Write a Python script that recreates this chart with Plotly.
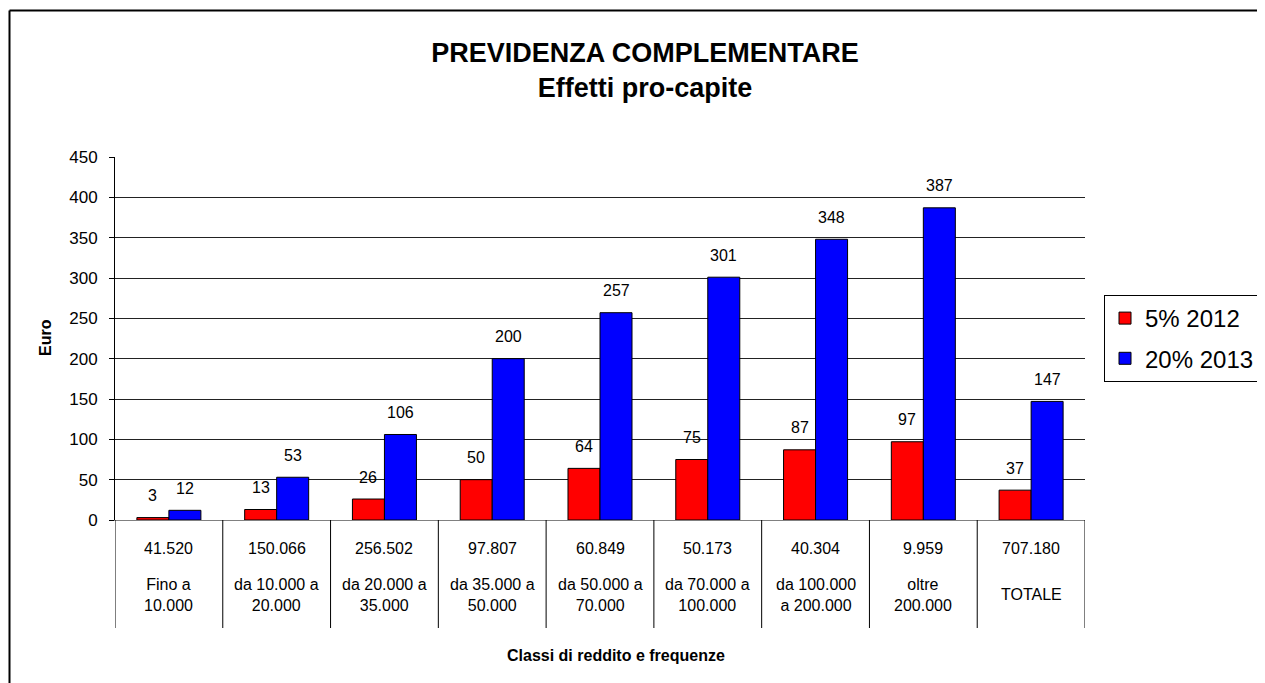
import plotly.graph_objects as go

# ---- data ----
frequenze = ["41.520", "150.066", "256.502", "97.807", "60.849", "50.173", "40.304", "9.959", "707.180"]
classi = ["Fino a<br>10.000", "da 10.000 a<br>20.000", "da 20.000 a<br>35.000", "da 35.000 a<br>50.000",
          "da 50.000 a<br>70.000", "da 70.000 a<br>100.000", "da 100.000<br>a 200.000", "oltre<br>200.000", "TOTALE"]
serie_2012 = [3, 13, 26, 50, 64, 75, 87, 97, 37]
serie_2013 = [12, 53, 106, 200, 257, 301, 348, 387, 147]
nome_2012 = "5% 2012"
nome_2013 = "20% 2013"
y_ticks = [0, 50, 100, 150, 200, 250, 300, 350, 400, 450]

FONT = "Liberation Sans, Arial, sans-serif"
OFF = 8  # page body margin
W, H = 1265 - 2 * OFF, 683 - OFF
PL, PR, PT, PB = 115, 1085, 157, 520  # plot area in screen pixels
L, R, T, B = PL - OFF, W - (PR - OFF), PT - OFF, H - (PB - OFF)
PH = PB - PT
PW = PR - PL

def py(pix):  # screen pixel y -> paper y
    return (PB - pix) / PH

def px(pix):  # screen pixel x -> paper x
    return (pix - PL) / PW

xs = list(range(len(frequenze)))

fig = go.Figure()
fig.add_trace(go.Bar(x=xs, y=serie_2012, name=nome_2012, legendgroup="a",
                     marker=dict(color="#FF0000", line=dict(color="#000000", width=1))))
fig.add_trace(go.Bar(x=xs, y=serie_2013, name=nome_2013, legendgroup="b",
                     marker=dict(color="#0000FF", line=dict(color="#000000", width=1))))

annotations = []
# data labels
bar_off = 16
for vals, sh in ((serie_2012, -bar_off), (serie_2013, bar_off)):
    for i, v in enumerate(vals):
        annotations.append(dict(x=i, y=v, xref="x", yref="y", text=str(v), showarrow=False,
                                xshift=sh, yshift=22, xanchor="center", yanchor="middle",
                                font=dict(family=FONT, size=16, color="#000")))
# table rows
for i in xs:
    annotations.append(dict(x=i, y=py(548), xref="x", yref="paper", text=frequenze[i],
                            showarrow=False, xanchor="center", yanchor="middle",
                            font=dict(family=FONT, size=16, color="#000")))
    annotations.append(dict(x=i, y=py(594.5), xref="x", yref="paper", text=classi[i],
                            showarrow=False, xanchor="center", yanchor="middle",
                            font=dict(family=FONT, size=16, color="#000")))
# axis titles
annotations.append(dict(x=px(616), y=py(655), xref="paper", yref="paper",
                        text="<b>Classi di reddito e frequenze</b>", showarrow=False,
                        xanchor="center", yanchor="middle",
                        font=dict(family=FONT, size=16, color="#000")))
annotations.append(dict(x=px(45), y=py(338), xref="paper", yref="paper",
                        text="<b>Euro</b>", showarrow=False, textangle=-90,
                        xanchor="center", yanchor="middle",
                        font=dict(family=FONT, size=16, color="#000")))

shapes = []
# table separators
for i in range(len(frequenze) + 1):
    shapes.append(dict(type="line", xref="x", yref="paper", x0=i - 0.5, x1=i - 0.5,
                       y0=0, y1=py(628), line=dict(color="#000", width=1)))
# outer frame (left and top edges; right/bottom lie outside the picture)
shapes.append(dict(type="line", xref="paper", yref="paper", x0=px(9.5), x1=px(9.5),
                   y0=py(700), y1=py(10.5), line=dict(color="#000", width=2)))
shapes.append(dict(type="line", xref="paper", yref="paper", x0=px(9.5), x1=px(1300),
                   y0=py(10.5), y1=py(10.5), line=dict(color="#000", width=2)))

fig.update_layout(
    width=W, height=H,
    margin=dict(l=L, r=R, t=T, b=B, pad=0, autoexpand=False),
    paper_bgcolor="white", plot_bgcolor="white",
    font=dict(family=FONT, color="#000"),
    title=dict(text="<b>PREVIDENZA COMPLEMENTARE<br>Effetti pro-capite</b>",
               xref="container", yref="container", x=(645 - OFF) / W, y=1 - (62 - OFF) / H,
               xanchor="center", yanchor="middle",
               font=dict(family=FONT, size=27, color="#000")),
    barmode="group", bargap=0.406, bargroupgap=0,
    showlegend=True,
    legend=dict(x=px(1104), y=py(338.5), xanchor="left", yanchor="middle",
                bordercolor="#000", borderwidth=1, bgcolor="white",
                font=dict(family=FONT, size=24, color="#000"),
                traceorder="grouped", tracegroupgap=6, entrywidth=190,
                itemclick=False),
    xaxis=dict(range=[-0.5, len(frequenze) - 0.5], showticklabels=False, ticks="",
               showgrid=False, zeroline=False, showline=True, linecolor="#808080", linewidth=1,
               fixedrange=True),
    yaxis=dict(range=[0, 450], tickvals=y_ticks, ticks="outside", ticklen=5, tickcolor="#000",
               showgrid=True, gridcolor="#222", gridwidth=1, zeroline=False,
               showline=True, linecolor="#000", linewidth=1,
               tickfont=dict(family=FONT, size=17, color="#000"), ticklabelstandoff=8,
               fixedrange=True),
    annotations=annotations, shapes=shapes,
)

fig.write_html("out.html")
